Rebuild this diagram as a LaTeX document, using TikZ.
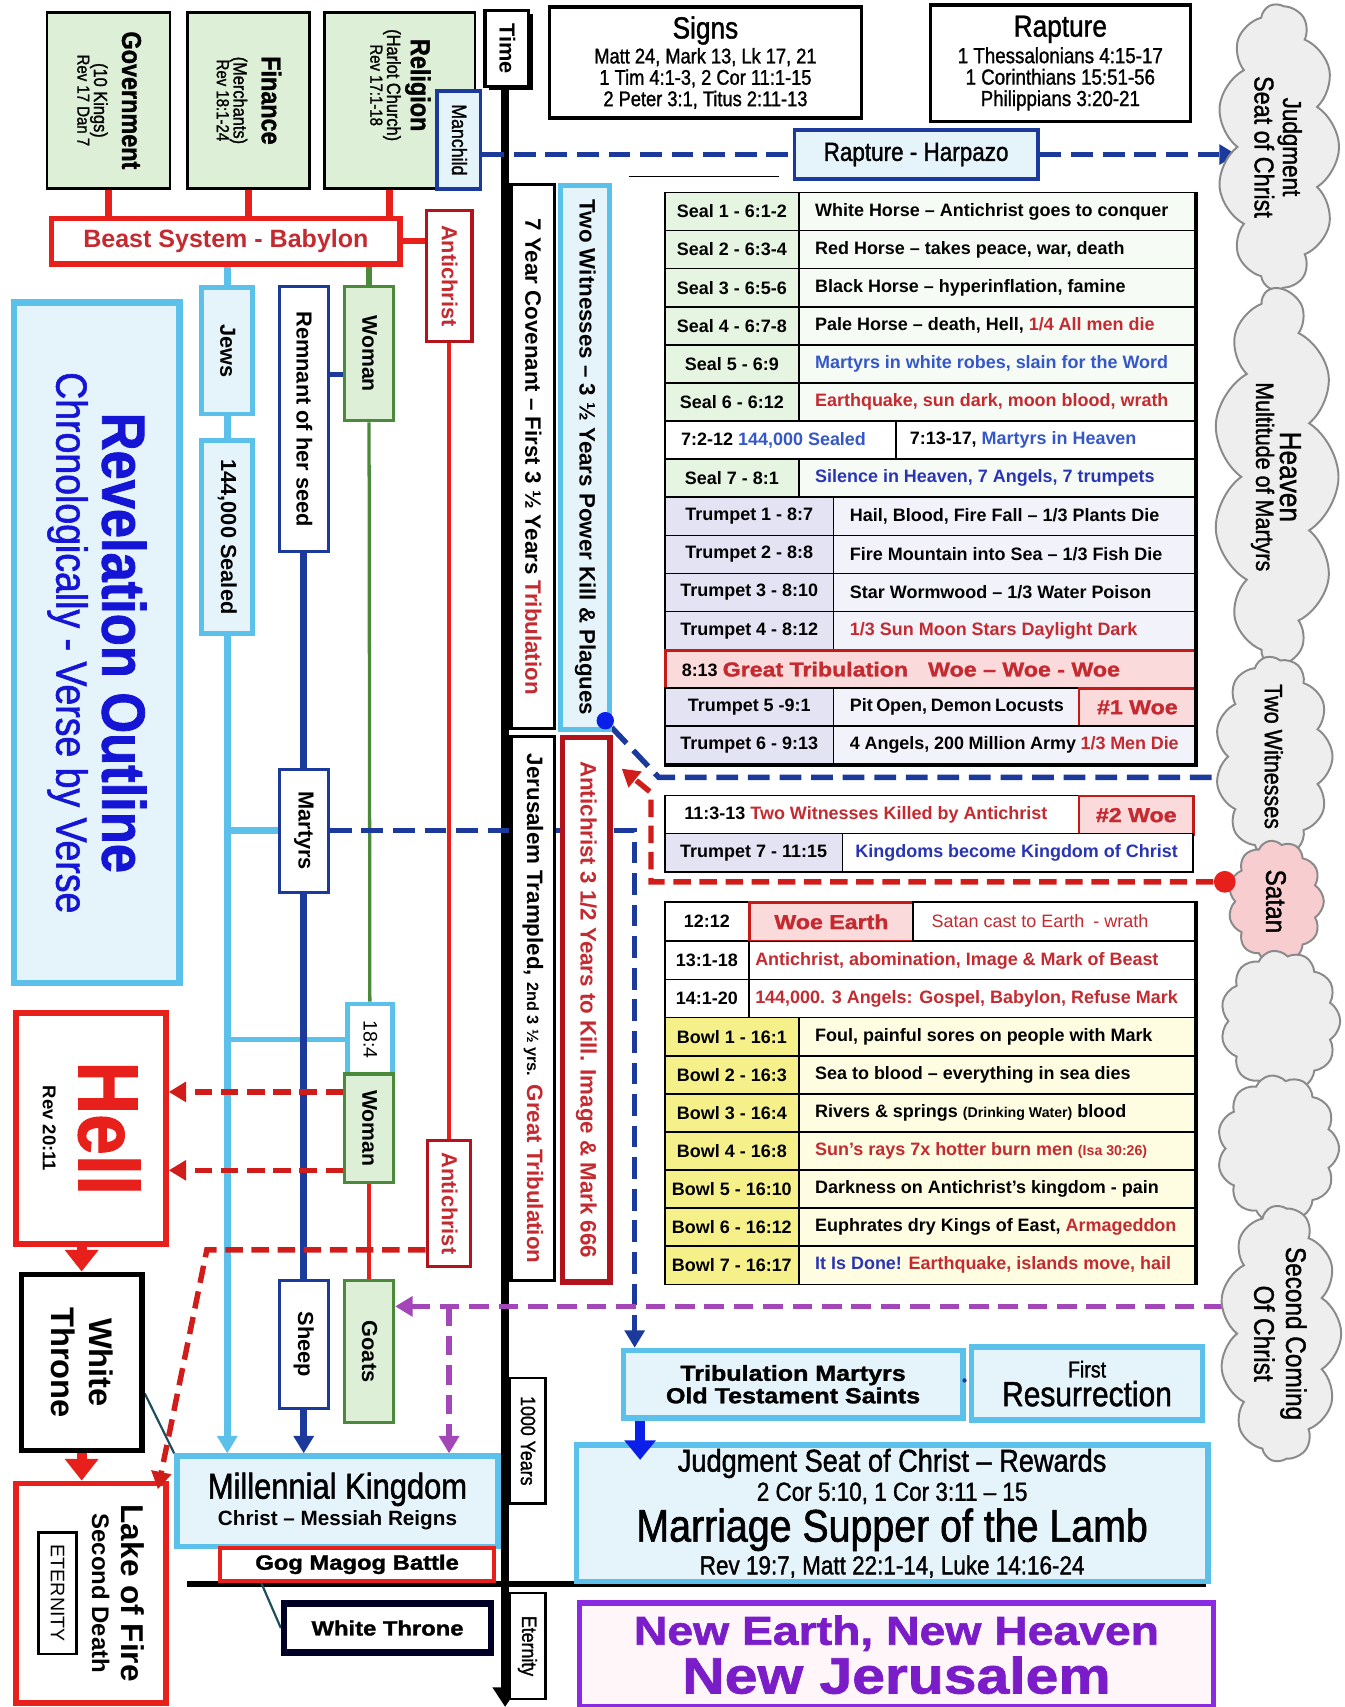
\documentclass[tikz,border=0pt]{standalone}
\usepackage{fontspec}
\setmainfont{Liberation Sans}
\newfontfamily\narrow[FakeStretch=0.86,FakeBold=1.3]{Liberation Sans}
\newfontfamily\heavy[FakeStretch=1.15,FakeBold=1.5]{Liberation Sans}
\usepackage{graphicx}
\usetikzlibrary{arrows.meta}
\usetikzlibrary{calc}
\usetikzlibrary{shapes.symbols}
\usetikzlibrary{shadows}
\usetikzlibrary{backgrounds}

\definecolor{lgreen}{HTML}{DDEFD6}
\definecolor{sgreen}{HTML}{E6F4E2}
\definecolor{sky}{HTML}{5BC0EA}
\definecolor{skyfill}{HTML}{E5F4FB}
\definecolor{navy}{HTML}{1C3A9C}
\definecolor{leaf}{HTML}{4B8A3B}
\definecolor{fire}{HTML}{E8201C}
\definecolor{wine}{HTML}{B3141C}
\definecolor{redtxt}{HTML}{C42A30}
\definecolor{bluetxt}{HTML}{3558C8}
\definecolor{navytxt}{HTML}{2A35B5}
\definecolor{lav}{HTML}{E3E3F4}
\definecolor{pinkc}{HTML}{FADADA}
\definecolor{bowl}{HTML}{F5F08A}
\definecolor{bowl2}{HTML}{FEFDE2}
\definecolor{plum}{HTML}{A346B8}
\definecolor{violet2}{HTML}{8A2BE2}
\definecolor{violettxt}{HTML}{7A1DC9}
\definecolor{pinkwhite}{HTML}{FFF6FA}
\definecolor{cloudfill}{HTML}{EEEEEE}
\definecolor{cloudline}{HTML}{8A8A8A}
\definecolor{satan}{HTML}{F8CDD0}
\definecolor{pureblue}{HTML}{0A20E8}
\definecolor{revblue}{HTML}{1515D6}
\definecolor{tealdark}{HTML}{1D4E5C}

\newcommand\fs[1]{\fontsize{#1}{\dimexpr #1pt*6/5\relax}\selectfont}
\newcommand\hv{\heavy\bfseries}
\newcommand\vt[2][0pt]{\rotatebox{-90}{\fontsize{4}{4}\selectfont\begin{tabular}{@{}c@{\hspace{#1}}}#2\end{tabular}}}

\tikzset{
every picture/.style={
line width=1pt
}}
\tikzset{
  wh/.style 2 args={minimum width=#1pt, minimum height=#2pt},
  box/.style={anchor=north west, inner sep=0pt, draw=black, fill=white, line width=3pt},
  greenbox/.style={box, fill=lgreen, line width=2.5pt},
  skybox/.style={box, draw=sky, fill=skyfill, line width=4.5pt},
  navybox/.style={box, draw=navy, line width=3pt},
  leafbox/.style={box, draw=leaf, fill=lgreen, line width=3pt},
  redbox/.style={box, draw=fire, line width=4.5pt},
  winebox/.style={box, draw=wine, line width=3pt},
  tight/.style={align=center, font=\fontsize{4}{4}\selectfont},
  cellb/.style={anchor=north west, inner sep=0pt, draw=black, line width=1.5pt, minimum height=35pt, font=\bfseries\fs{16.5}},
  lcell/.style={execute at begin node={\hbox to #1pt\bgroup}, execute at end node={\hfil\egroup}},
  sealL/.style={cellb, fill=sgreen, minimum width=123pt},
  sealR/.style={cellb, fill=sgreen!35, inner xsep=15pt, lcell=334},
  trumL/.style={cellb, fill=lav, minimum width=155pt},
  trumR/.style={cellb, fill=lav!45, inner xsep=15pt, lcell=302},
  bowlL/.style={cellb, fill=bowl, minimum width=123pt},
  bowlR/.style={cellb, fill=bowl2, inner xsep=15pt, lcell=334},
  woe/.style={cellb, fill=pinkc, draw=fire!85!black, line width=2.5pt, font=\hv\fs{18.5}, text=redtxt},
  cloudy/.style={shape=cloud, cloud puffs=11, cloud puff arc=115, cloud ignores aspect, draw=cloudline, fill=cloudfill, line width=1.8pt, inner sep=0pt, rotate=-90, tight},
  endtip/.style={-{Triangle[length=16pt, width=18pt]}},
  redc/.style={draw=fire, line width=6pt},
  skyc/.style={draw=sky, line width=6pt},
  navyc/.style={draw=navy, line width=6pt},
  leafc/.style={draw=leaf, line width=3pt},
  redthin/.style={draw=fire, line width=3pt},
  navyd/.style={draw=navy, line width=5pt, dash pattern=on 20pt off 9pt},
  redd/.style={draw=fire!90!black, line width=5pt, dash pattern=on 16pt off 8pt},
  plumd/.style={draw=plum, line width=5pt, dash pattern=on 18pt off 9pt}
}

\begin{document}
\begin{tikzpicture}[x=1pt, y=-1pt]
  \useasboundingbox (0,0) rectangle (1235,1568);

  % clouds down the right side
  \node[cloudy, wh={262}{112}] (cjud) at (1174,135) {{\narrow\fs{24}Judgment}\\[2pt]{\narrow\fs{25}Seat of Christ}};
  \node[cloudy, wh={345}{115}] (cheav) at (1172,438) {{\narrow\fs{28}Heaven}\\[4pt]{\narrow\fs{23}Multitude of Martyrs}};
  \node[cloudy, wh={175}{108}] (ctwo) at (1170,695) {\narrow\fs{23}Two Witnesses};
  \node[cloudy, fill=satan, wh={112}{88}] (csat) at (1172,828) {\narrow\fs{26}Satan};
  \node[cloudy, wh={130}{110}] (cx1) at (1176,938) {};
  \node[cloudy, wh={135}{112}] (cx2) at (1174,1055) {};
  \node[cloudy, wh={235}{112}] (csec) at (1176,1225) {{\narrow\fs{26}Second Coming}\\[4pt]{\narrow\fs{26}Of Christ}};

  % Babylon: three parts
  \node[greenbox, wh={113}{162}] (gov) at (42,10) {\vt{{\narrow\bfseries\fs{25}Government}\\[12pt]{\narrow\fs{17.5}(10 Kings)}\\[3pt]{\narrow\fs{16}Rev 17 Dan 7}}};
  \node[greenbox, wh={112}{162}] (fin) at (171,10) {\vt{{\narrow\bfseries\fs{25}Finance}\\[12pt]{\narrow\fs{17.5}(Merchants)}\\[3pt]{\narrow\fs{16}Rev 18:1-24}}};
  \node[greenbox, wh={138}{162}] (rel) at (297,10) {\vt[28pt]{{\narrow\bfseries\fs{25}Religion}\\[8pt]{\narrow\fs{17.5}(Harlot Church)}\\[3pt]{\narrow\fs{16}Rev 17:1-18}}};
  \node[navybox, fill=skyfill, wh={40}{90}] (man) at (400,82) {\vt{\narrow\fs{19}Manchild}};
  \node[box, wh={40}{70}, drop shadow={shadow xshift=4pt, shadow yshift=-3pt, opacity=1, fill=black}] (time) at (444,8) {\vt{\bfseries\fs{20}Time}};

  \node[redbox, line width=5pt, wh={320}{42}] (beast) at (45,198) {\bfseries\fs{23}\color{redtxt}Beast System - Babylon};
  \node[winebox, wh={42}{120}] (ac1) at (390,192) {\vt{\bfseries\fs{20}\color{redtxt}Antichrist}};

  % the peoples
  \node[skybox, wh={47}{116}] (jews) at (183,262) {\vt{\bfseries\fs{20}Jews}};
  \node[skybox, wh={47}{178}] (sealed) at (183,402) {\vt{\bfseries\fs{20}144,000 Sealed}};
  \node[navybox, wh={45}{243}] (rem) at (255,262) {\vt{\bfseries\fs{20}Remnant of her seed}};
  \node[leafbox, wh={45}{123}] (wom1) at (315,262) {\vt{\bfseries\fs{19.5}Woman}};
  \node[navybox, wh={45}{113}] (mart) at (255,705) {\vt{\bfseries\fs{20}Martyrs}};
  \node[skybox, fill=white, wh={41}{65}] (v184) at (317,920) {\vt{\fs{18}18:4}};
  \node[leafbox, wh={45}{100}] (wom2) at (315,985) {\vt{\bfseries\fs{19.5}Woman}};
  \node[winebox, wh={40}{116}] (ac2) at (391,1046) {\vt{\bfseries\fs{20}\color{redtxt}Antichrist}};
  \node[navybox, wh={45}{117}] (sheep) at (255,1175) {\vt{\bfseries\fs{20}Sheep}};
  \node[leafbox, wh={45}{130}] (goats) at (315,1175) {\vt{\bfseries\fs{20}Goats}};

  \node[skybox, line width=6pt, wh={152}{625}] (revbox) at (10,275) {\vt{{\narrow\bfseries\fs{56}\color{revblue}Revelation Outline}\\[12pt]{\narrow\fs{40}\color{revblue}Chronologically - Verse by Verse}}};

  % judgment side
  \node[redbox, line width=5pt, wh={138}{212}] (hell) at (12,928) {\vt{{\narrow\bfseries\fs{78}\color{fire}Hell}\\[20pt]{\bfseries\fs{17}Rev 20:11}}};
  \node[box, line width=5pt, wh={111}{162}] (wt) at (17,1168) {\vt{{\bfseries\fs{30}White}\\[12pt]{\bfseries\fs{30}Throne}}};
  \node[redbox, line width=5pt, wh={138}{202}] (lake) at (12,1360) {\vt{{\bfseries\fs{29}Lake of Fire}\\[10pt]{\bfseries\fs{22}Second Death}\\[12pt]{\setlength\fboxrule{2.5pt}\setlength\fboxsep{10pt}\fbox{\fs{18}ETERNITY}}}};
  \node[skybox, line width=5pt, wh={295}{83}, tight] (mil) at (160,1335) {{\narrow\fs{33}Millennial Kingdom}\\[3pt]{\bfseries\fs{19}Christ – Messiah Reigns}};
  \node[redbox, line width=4pt, wh={252}{30}] (gog) at (200,1420) {\hv\fs{19}Gog Magog Battle};
  \node[box, draw=black!85!blue, line width=6pt, wh={190}{45}] (wt2) at (258,1470) {\hv\fs{19}White Throne};
  \node[box, line width=2pt, wh={33}{115}] (yrs) at (467,1265) {\vt{\narrow\fs{19}1000 Years}};
  \node[box, line width=2pt, wh={33}{98}] (eter) at (467,1462) {\vt{\narrow\fs{19}Eternity}};

  % seven years
  \node[box, wh={40}{500}] (cov) at (468,168) {\vt{\bfseries\fs{20.5}7 Year Covenant – First 3 ½ Years \textcolor{redtxt}{Tribulation}}};
  \node[skybox, wh={45}{500}] (wit) at (513,168) {\vt{\bfseries\fs{20.5}Two Witnesses – 3 ½ Years Power Kill \& Plagues}};
  \node[box, wh={40}{500}] (jer) at (468,675) {\vt{\bfseries\fs{20.5}Jerusalem Trampled, {\fs{15}2nd 3 ½ yrs.} \textcolor{redtxt}{Great Tribulation}}};
  \node[box, draw=wine, line width=5pt, wh={44}{500}] (ac3) at (514,675) {\vt{\bfseries\fs{20.5}\color{redtxt}Antichrist 3 1/2 Years to Kill. Image \& Mark 666}};
  \node[circle, fill=pureblue, inner sep=0pt, minimum size=16pt] (wdot) at (556,662) {};

  % signs and rapture
  \node[box, wh={287}{102}, tight] (signs) at (503,5) {{\narrow\fs{28}Signs}\\[2pt]{\narrow\fs{19.5}Matt 24, Mark 13, Lk 17, 21}\\[2pt]{\narrow\fs{19.5}1 Tim 4:1-3, 2 Cor 11:1-15}\\[2pt]{\narrow\fs{19.5}2 Peter 3:1, Titus 2:11-13}};
  \node[box, wh={239}{107}, tight] (rapt) at (853,3) {{\narrow\fs{28}Rapture}\\[3pt]{\narrow\fs{20}1 Thessalonians 4:15-17}\\[4pt]{\narrow\fs{20}1 Corinthians 15:51-56}\\[4pt]{\narrow\fs{20}Philippians 3:20-21}};
  \node[navybox, fill=skyfill, wh={224}{45}] (harp) at (728,118) {\narrow\fs{24}Rapture - Harpazo};
  \draw[line width=1.5pt] (578,162) -- (716,162);

  % seals and trumpets
  \node[sealL] (s1) at (610,176) {Seal 1 - 6:1-2};
  \node[sealR] (s1t) at (733,176) {White Horse – Antichrist goes to conquer};
  \node[sealL] (s2) at (610,211) {Seal 2 - 6:3-4};
  \node[sealR] (s2t) at (733,211) {Red Horse – takes peace, war, death};
  \node[sealL] (s3) at (610,246) {Seal 3 - 6:5-6};
  \node[sealR] (s3t) at (733,246) {Black Horse – hyperinflation, famine};
  \node[sealL] (s4) at (610,281) {Seal 4 - 6:7-8};
  \node[sealR] (s4t) at (733,281) {Pale Horse – death, Hell, \textcolor{redtxt}{1/4 All men die}};
  \node[sealL] (s5) at (610,316) {Seal 5 - 6:9};
  \node[sealR] (s5t) at (733,316) {\textcolor{bluetxt}{Martyrs in white robes, slain for the Word}};
  \node[sealL] (s6) at (610,351) {Seal 6 - 6:12};
  \node[sealR] (s6t) at (733,351) {\textcolor{redtxt}{Earthquake, sun dark, moon blood, wrath}};
  \node[cellb, fill=white, inner xsep=15pt, lcell=182] (r7a) at (610,386) {7:2-12 \textcolor{bluetxt}{144,000 Sealed}};
  \node[cellb, fill=white, inner xsep=13pt, lcell=249] (r7b) at (822,386) {7:13-17, \textcolor{bluetxt}{Martyrs in Heaven}};
  \node[sealL] (s7) at (610,421) {Seal 7 - 8:1};
  \node[sealR] (s7t) at (733,421) {\textcolor{navytxt}{Silence in Heaven, 7 Angels, 7 trumpets}};
  \node[trumL] (t1) at (610,456) {Trumpet 1 - 8:7};
  \node[trumR] (t1t) at (765,456) {Hail, Blood, Fire Fall – 1/3 Plants Die};
  \node[trumL] (t2) at (610,491) {Trumpet 2 - 8:8};
  \node[trumR] (t2t) at (765,491) {Fire Mountain into Sea – 1/3 Fish Die};
  \node[trumL] (t3) at (610,526) {Trumpet 3 - 8:10};
  \node[trumR] (t3t) at (765,526) {Star Wormwood – 1/3 Water Poison};
  \node[trumL] (t4) at (610,561) {Trumpet 4 - 8:12};
  \node[trumR] (t4t) at (765,561) {\textcolor{redtxt}{1/3 Sun Moon Stars Daylight Dark}};
  \node[woe, inner xsep=15pt, lcell=457] (w813) at (610,596) {{\normalfont\bfseries\fs{16.5}\color{black}8:13\ }Great Tribulation\quad Woe – Woe - Woe};
  \node[trumL] (t5) at (610,631) {Trumpet 5 -9:1};
  \node[cellb, fill=lav!45, inner xsep=15pt, lcell=195] (t5t) at (765,631) {Pit Open, Demon Locusts};
  \node[woe, minimum width=107pt] (woe1) at (990,631) {\#1 Woe};
  \node[trumL] (t6) at (610,666) {Trumpet 6 - 9:13};
  \node[trumR] (t6t) at (765,666) {4 Angels, 200 Million Army \textcolor{redtxt}{1/3 Men Die}};
  \draw[line width=3.5pt] (s1t.north east) -- (t6t.south east) -- (t6.south west);

  % two witnesses killed
  \node[cellb, fill=white, inner xsep=18pt, lcell=344] (tw1) at (610,730) {11:3-13 \textcolor{redtxt}{Two Witnesses Killed by Antichrist}};
  \node[woe, minimum width=105pt] (woe2) at (990,730) {\#2 Woe};
  \node[trumL, minimum width=163pt] (t7) at (610,765) {Trumpet 7 - 11:15};
  \node[cellb, fill=white, inner xsep=12pt, lcell=298] (t7t) at (773,765) {\textcolor{navytxt}{Kingdoms become Kingdom of Christ}};

  % woe earth and bowls
  \node[cellb, fill=white, minimum width=77pt] (c1212) at (610,828) {12:12};
  \node[woe, minimum width=151pt] (woeE) at (687,828) {Woe Earth};
  \node[cellb, fill=white, inner xsep=17pt, lcell=225] (c1212t) at (838,828) {\mdseries\textcolor{redtxt}{Satan cast to Earth\enspace - wrath}};
  \node[cellb, fill=white, minimum width=77pt] (c13) at (610,864) {13:1-18};
  \node[cellb, fill=white, inner xsep=6pt, lcell=398] (c13t) at (687,864) {\textcolor{redtxt}{Antichrist, abomination, Image \& Mark of Beast}};
  \node[cellb, fill=white, minimum width=77pt] (c14) at (610,899) {14:1-20};
  \node[cellb, fill=white, inner xsep=6pt, lcell=398] (c14t) at (687,899) {\textcolor{redtxt}{144,000. 3 Angels: Gospel, Babylon, Refuse Mark}};
  \node[bowlL] (b1) at (610,934) {Bowl 1 - 16:1};
  \node[bowlR] (b1t) at (733,934) {Foul, painful sores on people with Mark};
  \node[bowlL] (b2) at (610,969) {Bowl 2 - 16:3};
  \node[bowlR] (b2t) at (733,969) {Sea to blood – everything in sea dies};
  \node[bowlL] (b3) at (610,1004) {Bowl 3 - 16:4};
  \node[bowlR] (b3t) at (733,1004) {Rivers \& springs {\fs{13}(Drinking Water)} blood};
  \node[bowlL] (b4) at (610,1039) {Bowl 4 - 16:8};
  \node[bowlR] (b4t) at (733,1039) {\textcolor{redtxt}{Sun’s rays 7x hotter burn men {\fs{13}(Isa 30:26)}}};
  \node[bowlL] (b5) at (610,1074) {Bowl 5 - 16:10};
  \node[bowlR] (b5t) at (733,1074) {Darkness on Antichrist’s kingdom - pain};
  \node[bowlL] (b6) at (610,1109) {Bowl 6 - 16:12};
  \node[bowlR] (b6t) at (733,1109) {Euphrates dry Kings of East, \textcolor{redtxt}{Armageddon}};
  \node[bowlL] (b7) at (610,1144) {Bowl 7 - 16:17};
  \node[bowlR] (b7t) at (733,1144) {\textcolor{navytxt}{It Is Done!} \textcolor{redtxt}{Earthquake, islands move, hail}};
  \draw[line width=3.5pt] (c1212t.north east) -- (b7t.south east);

  % resurrection, rewards, eternity
  \node[skybox, line width=5pt, wh={312}{62}, tight] (tmart) at (570,1238) {{\hv\fs{20}Tribulation Martyrs}\\[1pt]{\hv\fs{20}Old Testament Saints}};
  \node[skybox, line width=5pt, wh={212}{67}, tight] (first) at (890,1235) {{\narrow\fs{21}First}\\[2pt]{\narrow\fs{32}Resurrection}};
  \node[circle, fill=navy, inner sep=0pt, minimum size=4pt] (mdot) at (886,1268) {};
  \node[skybox, line width=5pt, wh={580}{125}, tight] (judg) at (527,1325) {{\narrow\fs{29}Judgment Seat of Christ – Rewards}\\[3pt]{\narrow\fs{24}2 Cor 5:10, 1 Cor 3:11 – 15}\\[3pt]{\narrow\fs{42}Marriage Supper of the Lamb}\\[3pt]{\narrow\fs{24}Rev 19:7, Matt 22:1-14, Luke 14:16-24}};
  \node[box, draw=violet2, line width=5pt, fill=pinkwhite, wh={582}{95}, tight, text=violettxt] (newe) at (530,1470) {{\hv\fs{37}New Earth, New Heaven}\\[4pt]{\hv\fs{47}New Jerusalem}};

  \node[circle, fill=fire, inner sep=0pt, minimum size=20pt] (sdot) at (1125,810) {};

  % connectors behind the boxes
  \begin{scope}[on background layer]
    \coordinate (tend) at (464,1568);
    \draw[line width=7pt, -{Triangle[length=18pt, width=22pt]}] (time.south -| tend) -- (tend);
    \coordinate (barL) at (172,1455);
    \coordinate (barR) at (1108,1455);
    \draw[line width=6pt] (barL) -- (barR);

    \coordinate (relfoot) at ($(rel.south west)+(61,0)$);
    \draw[redc] (gov.south) -- (gov.south |- beast.north);
    \draw[redc] (fin.south) -- (fin.south |- beast.north);
    \draw[redc] (relfoot) -- (relfoot |- beast.north);
    \draw[redc] (beast.east) -- (beast.east -| ac1.west);
    \draw[skyc] (jews.north |- beast.south) -- (jews.north);
    \draw[leafc, line width=6pt] (wom1.north |- beast.south) -- (wom1.north);
    \draw[skyc] (jews.south) -- (sealed.north);
    \draw[skyc, endtip] (sealed.south) -- (sealed.south |- mil.north);
    \draw[skyc] (sealed.south |- mart.west) -- (mart.west);
    \draw[skyc, line width=5pt] (sealed.south |- v184.west) -- (v184.west);
    \draw[navyc] (rem.south) -- (mart.north);
    \draw[navyc] (mart.south) -- (sheep.north);
    \draw[navyc, endtip] (sheep.south) -- (sheep.south |- mil.north);
    \coordinate (rw) at (300,344);
    \draw[navyc, line width=4pt] (rw -| rem.east) -- (rw -| wom1.west);
    \draw[leafc] (wom1.south) -- (v184.north);
    \draw[redthin] (wom2.south) -- (goats.north);
    \draw[redthin] (ac1.south) -- (ac2.north);

    \draw[navyd] (man.east |- harp.west) -- (harp.west);
    \coordinate (rend) at (1136,0);
    \draw[navyd, endtip] (harp.east) -- (harp.east -| rend);
    \coordinate (wb) at (605,714);
    \draw[navyd, endtip] (wdot) -- (wb) -- (wb -| rend);
    \coordinate (bx) at (583,0);
    \draw[navyd, endtip] (mart.east) -- (mart.east -| bx) -- (bx |- tmart.north);
    \coordinate (rb) at (598,728);
    \coordinate (actip) at ($(ac3.north east)+(8,31)$);
    \draw[redd, endtip] (sdot) -- (sdot -| rb) -- (rb) -- (actip);
    \coordinate (h1) at (0,1003);
    \coordinate (h2) at (0,1075);
    \draw[redd, endtip] (wom2.west |- h1) -- (hell.east |- h1);
    \draw[redd, endtip] (wom2.west |- h2) -- (hell.east |- h2);
    \coordinate (p0) at (1124,1200);
    \draw[plumd, endtip] (p0) -- (p0 -| goats.east);
    \draw[plumd, endtip] (ac2.south |- p0) -- (ac2.south |- mil.north);

    \draw[fire, line width=9pt, -{Triangle[length=20pt, width=30pt]}] (wt.north |- hell.south) -- (wt.north);
    \draw[fire, line width=9pt, -{Triangle[length=20pt, width=30pt]}] (wt.south) -- (wt.south |- lake.north);
    \coordinate (wtc) at ($(wt.south east)+(0,-55)$);
    \draw[tealdark, line width=2pt] (wtc) -- (mil.north west);
    \coordinate (gogc) at ($(gog.south west)+(40,0)$);
    \draw[tealdark, line width=2pt] (gogc) -- (wt2.west);
  \end{scope}

  % arrows ending inside boxes
  \coordinate (d1) at (190,1148);
  \coordinate (laketip) at ($(lake.north east)+(-10,8)$);
  \draw[redd, endtip] (ac2.west |- d1) -- (d1) -- (laketip);
  \coordinate (bl) at (588,0);
  \coordinate (bltip) at ($(judg.north -| bl)+(0,16)$);
  \draw[pureblue, line width=9pt, -{Triangle[length=18pt, width=28pt]}] (bl |- tmart.south) -- (bltip);
\end{tikzpicture}
\end{document}
